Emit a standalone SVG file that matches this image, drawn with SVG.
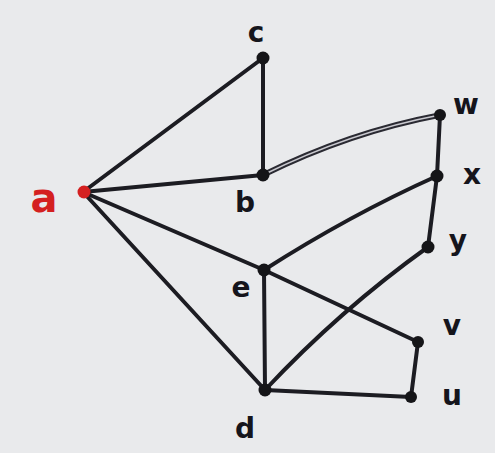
<svg xmlns="http://www.w3.org/2000/svg" width="495" height="453" viewBox="0 0 495 453">
<style>
.e{stroke:#1c1c22;stroke-width:4;fill:none;stroke-linecap:round}
.n{fill:#151518}
.l{font-family:"DejaVu Sans",sans-serif;font-size:28px;font-weight:bold;fill:#15151c;text-anchor:middle}
</style>
<rect width="495" height="453" fill="#e9eaec"/>
<g id="connectors">
<line class="e" x1="83" y1="192" x2="263" y2="58"/>
<line class="e" x1="83" y1="192" x2="263" y2="175"/>
<line class="e" x1="83" y1="192" x2="264" y2="270"/>
<line class="e" x1="83" y1="192" x2="265" y2="390"/>
<line class="e" x1="263" y1="58" x2="263" y2="175"/>
<path d="M263 175 Q350 132 440 115" stroke="#2a2a32" stroke-width="5.5" fill="none" stroke-linecap="round"/>
<path d="M263 175 Q350 132 440 115" stroke="#c9c9cf" stroke-width="1.4" fill="none"/>
<line class="e" x1="440" y1="115" x2="437" y2="176"/>
<line class="e" x1="437" y1="176" x2="428" y2="247"/>
<path class="e" d="M264 270 Q350 215 437 176"/>
<path class="e" d="M428 247 Q340 310 265 390"/>
<line class="e" x1="264" y1="270" x2="265" y2="390"/>
<line class="e" x1="264" y1="270" x2="418" y2="342"/>
<line class="e" x1="418" y1="342" x2="411" y2="397"/>
<line class="e" x1="265" y1="390" x2="411" y2="397"/>
</g>
<g id="node-a"><circle cx="84" cy="192" r="6.5" fill="#d42020"/><text x="44" y="212" font-family="DejaVu Sans,sans-serif" font-size="40" font-weight="bold" fill="#d42020" text-anchor="middle">a</text></g>
<g id="node-c"><circle class="n" cx="263" cy="58" r="6.5"/><text class="l" x="256" y="42">c</text></g>
<g id="node-b"><circle class="n" cx="263" cy="175" r="6.5"/><text class="l" x="245" y="212">b</text></g>
<g id="node-w"><circle class="n" cx="440" cy="115" r="6"/><text class="l" x="466" y="114">w</text></g>
<g id="node-x"><circle class="n" cx="437" cy="176" r="6.5"/><text class="l" x="472" y="184">x</text></g>
<g id="node-y"><circle class="n" cx="428" cy="247" r="6.5"/><text class="l" x="458" y="250">y</text></g>
<g id="node-e"><circle class="n" cx="264" cy="270" r="6.5"/><text class="l" x="241" y="297">e</text></g>
<g id="node-v"><circle class="n" cx="418" cy="342" r="6"/><text class="l" x="452" y="335">v</text></g>
<g id="node-u"><circle class="n" cx="411" cy="397" r="6"/><text class="l" x="452" y="405">u</text></g>
<g id="node-d"><circle class="n" cx="265" cy="390" r="6.5"/><text class="l" x="245" y="438">d</text></g>
</svg>
